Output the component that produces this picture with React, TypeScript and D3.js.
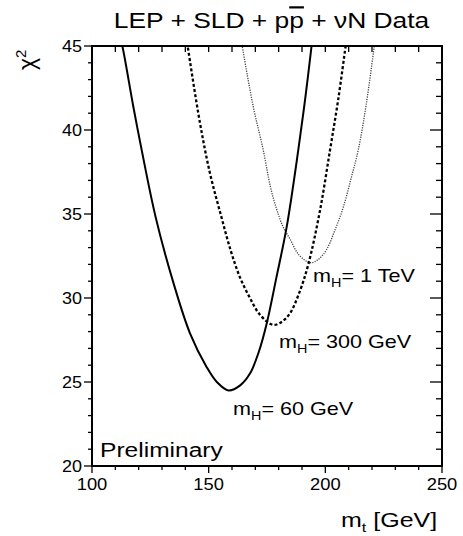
import React from "react";
import * as d3 from "d3";

// values: [m_t (GeV), chi2]
const curve60: [number, number][] = [
  [112.0, 45.5], [113.0, 45.0], [117.7, 41.4], [121.3, 38.8], [127.3, 34.8],
  [134.9, 30.9], [142.0, 27.9], [149.1, 25.9], [153.5, 25.0], [158.5, 24.5],
  [163.5, 24.8], [167.7, 25.5], [171.5, 26.8], [174.9, 28.5], [179.0, 31.2],
  [183.4, 34.2], [188.4, 38.8], [191.5, 42.0], [194.1, 45.0], [194.5, 45.5],
];
const curve300: [number, number][] = [
  [140.5, 45.5], [141.0, 45.0], [146.3, 40.4], [150.6, 37.4], [155.3, 34.9],
  [159.5, 32.8], [163.5, 31.2], [167.7, 30.0], [172.0, 29.0], [177.6, 28.4],
  [181.5, 28.6], [184.9, 29.1], [188.8, 30.3], [192.7, 32.0], [197.7, 35.2],
  [202.0, 38.8], [205.5, 41.8], [208.7, 45.0], [209.2, 45.5],
];
const curve1000: [number, number][] = [
  [163.9, 45.5], [164.4, 45.0], [169.1, 41.4], [173.4, 38.8], [176.5, 36.6],
  [179.1, 35.3], [182.0, 34.2], [184.9, 33.5], [188.5, 32.6], [193.5, 32.1],
  [197.0, 32.3], [200.6, 32.9], [204.0, 34.0], [207.7, 35.4], [211.0, 37.1],
  [214.1, 38.8], [217.5, 41.5], [221.0, 45.0], [221.5, 45.5],
];

const xTicksMajor = [100, 150, 200, 250];
const yTicksMajor = [20, 25, 30, 35, 40, 45];
const higgsLabels = [
  { text: "= 1 TeV", x: 313, y: 282 },
  { text: "= 300 GeV", x: 279, y: 348 },
  { text: "= 60 GeV", x: 233, y: 415 },
];

const W = 463;
const H = 536;
const left = 92;
const right = 442;
const top = 46;
const bottom = 466;
const font = "'Liberation Sans', Arial, Helvetica, sans-serif";

// the original lettering is a bit wider than Liberation Sans, so stretch it
function Wide({ x, y, sx, children }: { x: number; y: number; sx: number; children: React.ReactNode }) {
  return <g transform={`translate(${x},${y}) scale(${sx},1)`}>{children}</g>;
}

export default function App() {
  const x = d3.scaleLinear().domain([100, 250]).range([left, right]);
  const y = d3.scaleLinear().domain([20, 45]).range([bottom, top]);
  const line = d3
    .line<[number, number]>()
    .x((d) => x(d[0]))
    .y((d) => y(d[1]))
    .curve(d3.curveCatmullRom.alpha(0.5));

  const xMinor = d3.range(100, 251, 10);
  const yMinor = d3.range(20, 46, 1);

  return (
    <svg
      width={W}
      height={H}
      style={{ position: "absolute", left: 0, top: 0, background: "#fff" }}
      fontFamily={font}
    >
      <defs>
        <clipPath id="plot">
          <rect x={left} y={top} width={right - left} height={bottom - top} />
        </clipPath>
      </defs>

      {/* title */}
      <Wide x={271.5} y={28} sx={1.2}>
        <text x={0} y={0} fontSize={22} textAnchor="middle" fill="#000">
          LEP + SLD + p
          <tspan style={{ textDecoration: "overline" }}>p</tspan>
          {" + νN Data"}
        </text>
      </Wide>

      {/* curves */}
      <g clipPath="url(#plot)" fill="none">
        <path d={line(curve1000) ?? ""} stroke="#444" strokeWidth={1.3} strokeDasharray="1.2,1.2" />
        <path d={line(curve300) ?? ""} stroke="#000" strokeWidth={2.3} strokeDasharray="3,2.2" />
        <path d={line(curve60) ?? ""} stroke="#000" strokeWidth={2} />
      </g>

      {/* frame */}
      <rect x={left} y={top} width={right - left} height={bottom - top} fill="none" stroke="#000" strokeWidth={2} />

      {/* left ticks (outward) */}
      {yMinor.map((v) => (
        <line key={"yl" + v} x1={yTicksMajor.includes(v) ? left - 8 : left - 4} x2={left} y1={y(v)} y2={y(v)} stroke="#000" strokeWidth={1.3} />
      ))}
      {/* right ticks (inward) */}
      {yMinor.map((v) => (
        <line key={"yr" + v} x1={yTicksMajor.includes(v) ? right - 12 : right - 6} x2={right} y1={y(v)} y2={y(v)} stroke="#000" strokeWidth={1.3} />
      ))}
      {/* bottom ticks (outward) */}
      {xMinor.map((v) => (
        <line key={"xb" + v} x1={x(v)} x2={x(v)} y1={bottom} y2={xTicksMajor.includes(v) ? bottom + 7 : bottom + 4} stroke="#000" strokeWidth={1.3} />
      ))}
      {/* top ticks (inward) */}
      {xMinor.map((v) => (
        <line key={"xt" + v} x1={x(v)} x2={x(v)} y1={top} y2={top + 6} stroke="#000" strokeWidth={1.3} />
      ))}

      {/* tick labels */}
      {yTicksMajor.map((v) => (
        <Wide key={"ytl" + v} x={left - 10} y={y(v) + 6} sx={1.06}>
          <text x={0} y={0} fontSize={17} textAnchor="end">
            {v}
          </text>
        </Wide>
      ))}
      {xTicksMajor.map((v) => (
        <Wide key={"xtl" + v} x={x(v)} y={490} sx={1.08}>
          <text x={0} y={0} fontSize={17} textAnchor="middle">
            {v}
          </text>
        </Wide>
      ))}

      {/* axis titles */}
      <Wide x={341} y={527} sx={1.25}>
        <text x={0} y={0} fontSize={20}>
          m<tspan fontSize={13} dy={5}>t</tspan>
          <tspan dy={-5}> [GeV]</tspan>
        </text>
      </Wide>
      <text transform="translate(35,70) rotate(-90)" fontSize={23}>
        χ<tspan fontSize={15} dy={-9}>2</tspan>
      </text>

      {/* curve labels */}
      {higgsLabels.map((l) => (
        <Wide key={l.text} x={l.x} y={l.y} sx={1.2}>
          <text x={0} y={0} fontSize={18}>
            m<tspan fontSize={12} dy={5}>H</tspan>
            <tspan dy={-5}>{l.text}</tspan>
          </text>
        </Wide>
      ))}

      <Wide x={100} y={457} sx={1.17}>
        <text x={0} y={0} fontSize={21}>
          Preliminary
        </text>
      </Wide>
    </svg>
  );
}
